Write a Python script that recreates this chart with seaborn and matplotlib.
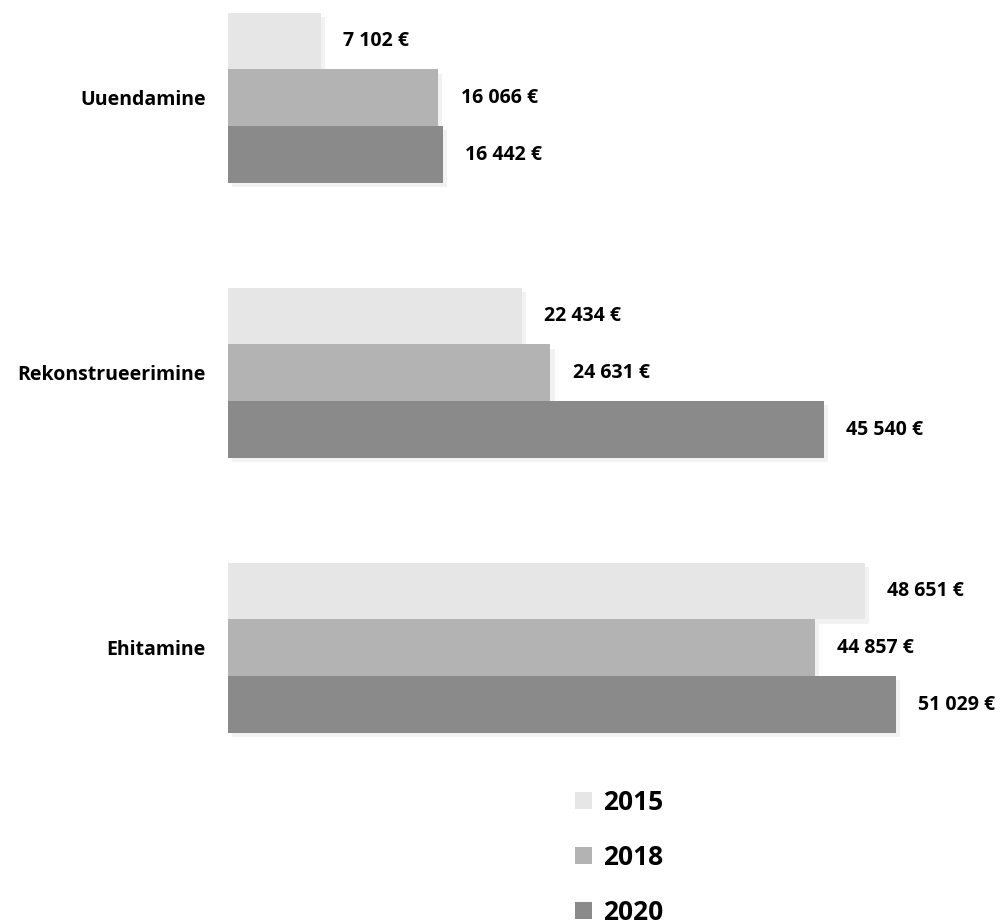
import matplotlib
matplotlib.use("Agg")
import matplotlib.pyplot as plt
import matplotlib.patheffects as pe
from matplotlib.patches import Patch
import pandas as pd
import seaborn as sns

categories = ["Uuendamine", "Rekonstrueerimine", "Ehitamine"]
years = ["2015", "2018", "2020"]
values_2015 = [7102, 22434, 48651]
values_2018 = [16066, 24631, 44857]
values_2020 = [16442, 45540, 51029]
colors = ["#e6e6e6", "#b3b3b3", "#8a8a8a"]

df = pd.DataFrame({
    "category": categories * 3,
    "year": [y for y in years for _ in categories],
    "value": values_2015 + values_2018 + values_2020,
})

sns.set_style("white")
plt.rcParams["font.family"] = ["Open Sans", "DejaVu Sans"]

W, H = 1007, 924
fig = plt.figure(figsize=(W / 100, H / 100), dpi=100)
ax = fig.add_axes([228 / W, (H - 740) / H, 720 / W, 740 / H])

sns.barplot(data=df, y="category", x="value", hue="year", order=categories,
            hue_order=years, palette=colors, width=0.62, orient="h",
            ax=ax, legend=False, saturation=1, linewidth=0, edgecolor="none")

# soft drop shadow like the original
for bar in ax.patches:
    bar.set_path_effects([pe.SimplePatchShadow(offset=(3, -3), shadow_rgbFace="#000000", alpha=0.05),
                          pe.Normal()])

for cont in ax.containers:
    labels = [f"{v:,.0f} €".replace(",", " ") for v in cont.datavalues]
    ax.bar_label(cont, labels=labels, padding=16, fontsize=14,
                 fontweight="bold", color="black", clip_on=False)

ax.set_xlim(0, 55000)
ax.set_ylim(2.335, -0.356)
ax.set_xlabel("")
ax.set_ylabel("")
ax.set_xticks([])
ax.tick_params(axis="y", length=0, pad=16)
for lbl in ax.get_yticklabels():
    lbl.set_fontweight("bold")
    lbl.set_fontsize(14)
    lbl.set_color("black")
sns.despine(ax=ax, left=True, bottom=True)

handles = [Patch(facecolor=c, edgecolor="none") for c in colors]
leg = fig.legend(handles, years, loc="upper left",
                 bbox_to_anchor=(551 / W, 1 - 765 / H), frameon=False,
                 handlelength=0.64, handleheight=0.64, handletextpad=0.42,
                 labelspacing=1.06, prop={"size": 19, "weight": "bold"})
for t in leg.get_texts():
    t.set_color("black")

fig.savefig("out.png", dpi=100)
